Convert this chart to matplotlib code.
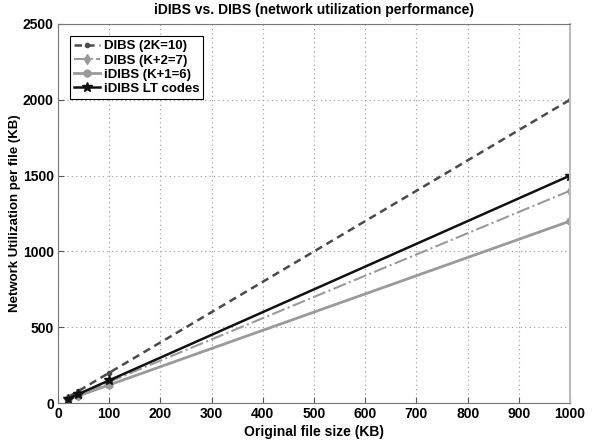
import matplotlib
matplotlib.use('Agg')
import matplotlib.pyplot as plt

file_size = [20, 40, 100, 1000]
dibs_2k = [40, 80, 200, 2000]
dibs_k2 = [28, 56, 140, 1400]
idibs_k1 = [24, 48, 120, 1200]
idibs_lt = [30, 60, 150, 1500]

plt.rcParams['font.family'] = ['Liberation Sans', 'DejaVu Sans']
plt.rcParams['font.weight'] = 'bold'
plt.rcParams['font.size'] = 10

fig = plt.figure(figsize=(5.92, 4.42), dpi=100)
ax = fig.add_axes([0.098, 0.088, 0.865, 0.858])

ax.plot(file_size, dibs_2k, linestyle=(0, (3, 2)), color='#4a4a4a', linewidth=1.8,
        marker='o', markersize=3, label='DIBS (2K=10)')
ax.plot(file_size, dibs_k2, linestyle='-.', color='#9a9a9a', linewidth=1.5,
        marker='d', markersize=5, label='DIBS (K+2=7)')
ax.plot(file_size, idibs_k1, linestyle='-', color='#9a9a9a', linewidth=2,
        marker='o', markersize=5, label='iDIBS (K+1=6)')
ax.plot(file_size, idibs_lt, linestyle='-', color='#111111', linewidth=1.8,
        marker='*', markersize=7, label='iDIBS LT codes')

ax.set_xlim(0, 1000)
ax.set_ylim(0, 2500)
ax.set_xticks(range(0, 1001, 100))
ax.set_yticks(range(0, 2501, 500))
ax.grid(True, linestyle=(0, (1, 3)), color='#999999', linewidth=0.8)
ax.tick_params(direction='in', length=4, color='#555555', pad=3)
for s in ax.spines.values():
    s.set_color('#777777')
ax.spines['right'].set_color('#bbbbbb')
ax.spines['right'].set_linewidth(1.5)

ax.set_title('iDIBS vs. DIBS (network utilization performance)', fontsize=10,
             fontweight='bold', pad=7)
ax.set_xlabel('Original file size (KB)', fontweight='bold', labelpad=3)
ax.set_ylabel('Network Utilization per file (KB)', fontweight='bold', fontsize=9.5)
ax.yaxis.set_label_coords(-0.072, 0.5)

leg = ax.legend(loc='upper left', fancybox=False, edgecolor='black',
                handlelength=2, borderpad=0.3, labelspacing=0.15,
                handletextpad=0.3, framealpha=1, fontsize=9.5,
                bbox_to_anchor=(0.01, 0.985))
leg.get_frame().set_linewidth(0.8)

fig.savefig('out.png', dpi=100)
